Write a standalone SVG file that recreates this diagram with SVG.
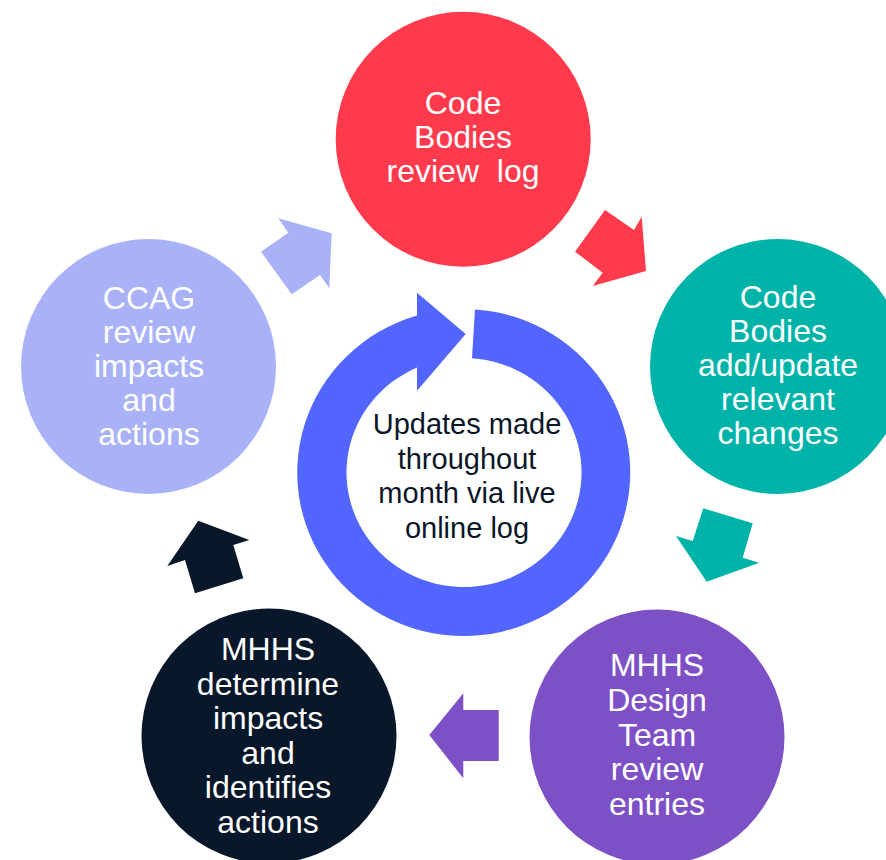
<svg xmlns="http://www.w3.org/2000/svg" width="886" height="860" viewBox="0 0 886 860">
  <style>
    .lbl { font-family: "Liberation Sans", Arial, sans-serif; font-size: 32px; fill: #FFFFFF; text-anchor: middle; }
    .ctr { font-family: "Liberation Sans", Arial, sans-serif; font-size: 29px; fill: #0A1628; text-anchor: middle; }
  </style>
  <rect x="0" y="0" width="886" height="860" fill="#FFFFFF"/>

  <g id="cycle-ring">
    <path d="M 475 309.4 A 166.5 163.5 0 1 1 417 315.6 L 417 292.7 L 465.7 334 L 417 390.7 L 417 367.6 A 117.5 114.5 0 1 0 472 358.3 Z" fill="#5265FF"/>
    <text class="ctr" x="467" y="433.5">Updates made</text>
    <text class="ctr" x="467" y="468.5">throughout</text>
    <text class="ctr" x="467" y="503">month via live</text>
    <text class="ctr" x="467" y="538">online log</text>
  </g>

  <g id="connectors">
    <polygon points="605,210 634,230 641.7,216.7 646,271 592.7,286 602.7,272.7 575,251.7" fill="#FF3A4C"/>
    <polygon points="703.3,508.3 752.7,523.3 742.7,557.7 759.3,562.7 706.7,581.7 676,536 692.7,541" fill="#00B3A9"/>
    <polygon points="429.3,735 463.3,693.3 463.3,710 498.7,710 498.7,761 463.3,761 463.3,778.3" fill="#7E50C6"/>
    <polygon points="198.3,520.7 249.3,540 233.3,545 243.3,578.3 195,593.3 185,560 167.3,566" fill="#081729"/>
    <polygon points="331.7,233.3 329.3,288.3 320,275 291.7,294.3 261,251.7 288.3,232.7 278.3,218.3" fill="#A9B2F7"/>
  </g>

  <g id="node-code-bodies-review">
    <circle cx="463.2" cy="139.2" r="127.5" fill="#FF3A4C"/>
    <text class="lbl" x="463" y="113.5">Code</text>
    <text class="lbl" x="463" y="147.5">Bodies</text>
    <text class="lbl" x="463" y="181.5" style="white-space:pre" xml:space="preserve">review  log</text>
  </g>

  <g id="node-code-bodies-update">
    <circle cx="777.5" cy="366.5" r="127.5" fill="#00B3A9"/>
    <text class="lbl" x="778" y="307.5">Code</text>
    <text class="lbl" x="778" y="341.5">Bodies</text>
    <text class="lbl" x="778" y="376">add/update</text>
    <text class="lbl" x="778" y="410">relevant</text>
    <text class="lbl" x="778" y="444">changes</text>
  </g>

  <g id="node-mhhs-design">
    <circle cx="657" cy="737" r="127.5" fill="#7E50C6"/>
    <text class="lbl" x="657" y="676">MHHS</text>
    <text class="lbl" x="657" y="711">Design</text>
    <text class="lbl" x="657" y="745.5">Team</text>
    <text class="lbl" x="657" y="780">review</text>
    <text class="lbl" x="657" y="814.5">entries</text>
  </g>

  <g id="node-mhhs-determine">
    <circle cx="269" cy="736" r="127.5" fill="#081729"/>
    <text class="lbl" x="268" y="660">MHHS</text>
    <text class="lbl" x="268" y="694.5">determine</text>
    <text class="lbl" x="268" y="729">impacts</text>
    <text class="lbl" x="268" y="763.5">and</text>
    <text class="lbl" x="268" y="798">identifies</text>
    <text class="lbl" x="268" y="832.5">actions</text>
  </g>

  <g id="node-ccag">
    <circle cx="148.5" cy="366.5" r="127.5" fill="#A9B2F7"/>
    <text class="lbl" x="149" y="308.5">CCAG</text>
    <text class="lbl" x="149" y="342.5">review</text>
    <text class="lbl" x="149" y="376.5">impacts</text>
    <text class="lbl" x="149" y="410.5">and</text>
    <text class="lbl" x="149" y="444.5">actions</text>
  </g>
</svg>
